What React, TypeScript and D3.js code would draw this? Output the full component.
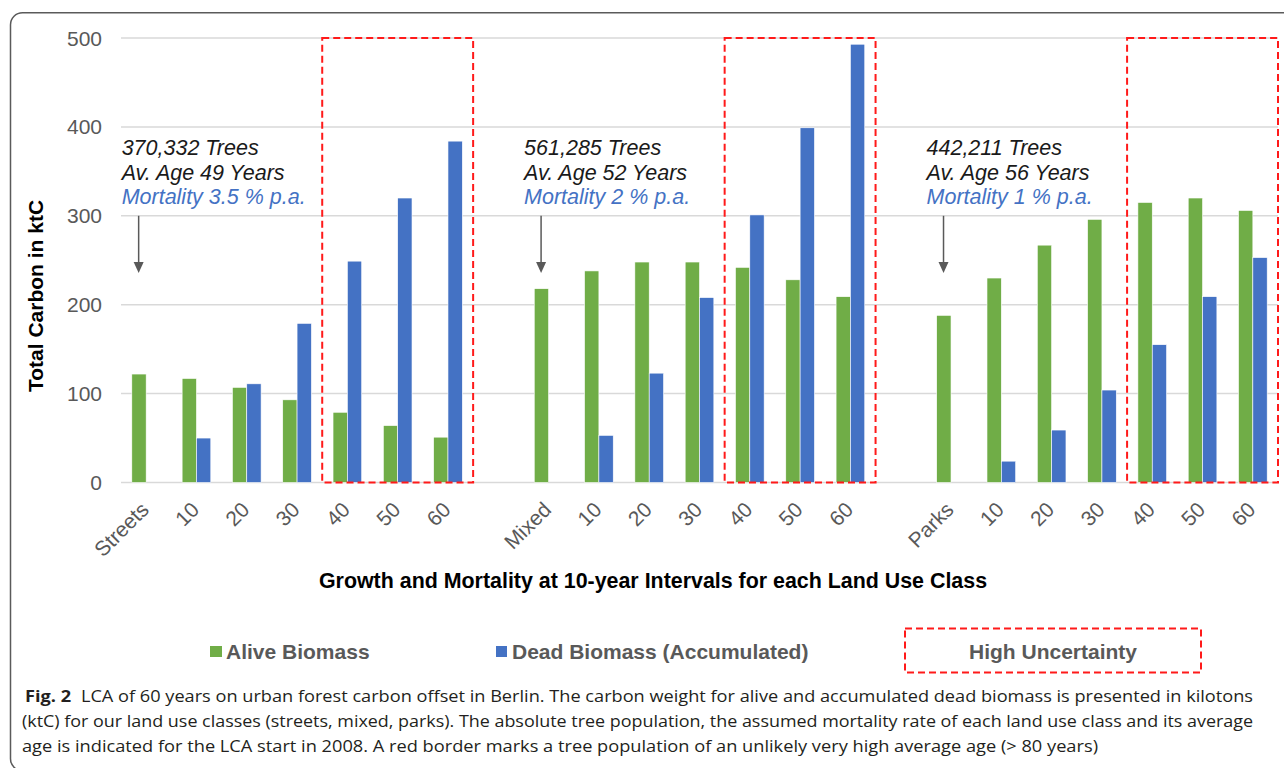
import React from "react";
import * as d3 from "d3";

const categories = ["Streets","10","20","30","40","50","60","","Mixed","10","20","30","40","50","60","","Parks","10","20","30","40","50","60"];
const alive = [122,117,107,93,79,64,51,null,218,238,248,248,242,228,209,null,188,230,267,296,315,320,306];
const dead = [null,50,111,179,249,320,384,null,null,53,123,208,301,399,493,null,null,24,59,104,155,209,253];
const yTicks = [0,100,200,300,400,500];
const uncertaintyRanges = [[4,6],[12,14],[20,22]];
const annotations = [
  { idx: 0, trees: "370,332 Trees", age: "Av. Age 49 Years", mort: "Mortality 3.5 % p.a." },
  { idx: 8, trees: "561,285 Trees", age: "Av. Age 52 Years", mort: "Mortality 2 % p.a." },
  { idx: 16, trees: "442,211 Trees", age: "Av. Age 56 Years", mort: "Mortality 1 % p.a." },
];
const seriesNames = ["Alive Biomass", "Dead Biomass (Accumulated)"];
const uncertaintyLabel = "High Uncertainty";
const yTitle = "Total Carbon in ktC";
const xTitle = "Growth and Mortality at 10-year Intervals for each Land Use Class";
const captionLines = [
  "LCA of 60 years on urban forest carbon offset in Berlin. The carbon weight for alive and accumulated dead biomass is presented in kilotons",
  "(ktC) for our land use classes (streets, mixed, parks). The absolute tree population, the assumed mortality rate of each land use class and its average",
  "age is indicated for the LCA start in 2008. A red border marks a tree population of an unlikely very high average age (> 80 years)",
];

const GREEN = "#70ad47";
const BLUE = "#4472c4";
const RED = "#ff1a1a";
const GRAY = "#595959";
const FONT = "'Liberation Sans', Arial, sans-serif";

export default function App() {
  const x = d3.scaleBand<number>().domain(d3.range(categories.length)).range([121, 1278]).padding(0);
  const y = d3.scaleLinear().domain([0, 500]).range([482.5, 38]);
  const bw = x.bandwidth();
  const barW = bw * 0.285;

  return (
    <svg width={1284} height={768} style={{ position: "absolute", left: 0, top: 0, background: "#fff" }} fontFamily={FONT}>
      <rect x={0} y={0} width={1284} height={768} fill="#fff" />
      <rect x={10.5} y={12.7} width={1300} height={758} rx={12} fill="none" stroke="#5a5a5a" strokeWidth={1.5} />
      {/* gridlines */}
      {yTicks.map((t) => (
        <line key={t} x1={121} x2={1278} y1={y(t)} y2={y(t)} stroke="#d9d9d9" strokeWidth={1.5} />
      ))}
      {yTicks.map((t) => (
        <text key={"l" + t} x={102} y={y(t)} dy="0.36em" textAnchor="end" fontSize={21} fill={GRAY}>{t}</text>
      ))}
      {/* bars */}
      {categories.map((c, i) => {
        const cx = (x(i) as number) + bw / 2;
        return (
          <g key={i}>
            {alive[i] != null && (
              <rect x={cx - barW} y={y(alive[i] as number)} width={barW} height={y(0) - y(alive[i] as number)} fill={GREEN} stroke="#fff" strokeWidth={0.6} />
            )}
            {dead[i] != null && (
              <rect x={cx} y={y(dead[i] as number)} width={barW} height={y(0) - y(dead[i] as number)} fill={BLUE} stroke="#fff" strokeWidth={0.6} />
            )}
          </g>
        );
      })}
      {/* uncertainty boxes */}
      {uncertaintyRanges.map(([a, b], k) => (
        <rect key={k} x={x(a) as number} y={y(500)} width={(x(b) as number) + bw - (x(a) as number)} height={y(0) - y(500)}
          fill="none" stroke={RED} strokeWidth={2} strokeDasharray="7,4" />
      ))}
      {/* x tick labels */}
      {categories.map((c, i) => c ? (
        <text key={"x" + i} transform={`translate(${(x(i) as number) + bw / 2 + 4},511) rotate(-45)`} textAnchor="end" fontSize={21} fill={GRAY}>{c}</text>
      ) : null)}
      {/* annotations */}
      {annotations.map((a, k) => {
        const ax = (x(a.idx) as number) + bw / 2 - 7.5;
        return (
          <g key={"a" + k}>
            <line x1={ax} x2={ax} y1={y(300)} y2={263} stroke={GRAY} strokeWidth={1.5} />
            <path d={`M${ax - 5},${262} L${ax + 5},${262} L${ax},${273} Z`} fill={GRAY} />
            <text x={ax - 17} y={154.5} fontSize={21.5} fontStyle="italic" fill="#1a1a1a">{a.trees}</text>
            <text x={ax - 17} y={179.5} fontSize={21.5} fontStyle="italic" fill="#1a1a1a">{a.age}</text>
            <text x={ax - 17} y={203.5} fontSize={21.5} fontStyle="italic" fill={BLUE}>{a.mort}</text>
          </g>
        );
      })}
      {/* axis titles */}
      <text transform="translate(43,296) rotate(-90)" textAnchor="middle" fontSize={21} fontWeight="bold" fill="#000">{yTitle}</text>
      <text x={653} y={588} textAnchor="middle" fontSize={21.4} fontWeight="bold" fill="#000">{xTitle}</text>
      {/* legend */}
      <rect x={210} y={646} width={12} height={11} fill={GREEN} />
      <text x={226} y={659} fontSize={21} fontWeight="bold" fill={GRAY}>{seriesNames[0]}</text>
      <rect x={496} y={646} width={11} height={11} fill={BLUE} />
      <text x={512} y={659} fontSize={21} fontWeight="bold" fill={GRAY}>{seriesNames[1]}</text>
      <rect x={905} y={628.5} width={296} height={44} fill="none" stroke={RED} strokeWidth={2} strokeDasharray="7,4" />
      <text x={1053} y={659} textAnchor="middle" fontSize={21} fontWeight="bold" fill={GRAY}>{uncertaintyLabel}</text>
      {/* caption */}
      <text x={25} y={701.7} fontSize={16.5} fill="#231f20" fontFamily="'Open Sans', 'Noto Sans', sans-serif" textLength={1228} lengthAdjust="spacingAndGlyphs">
        <tspan fontWeight="bold">Fig. 2</tspan><tspan dx={9}>{captionLines[0]}</tspan>
      </text>
      <text x={22} y={726.7} fontSize={16.5} fill="#231f20" fontFamily="'Open Sans', 'Noto Sans', sans-serif" textLength={1231} lengthAdjust="spacingAndGlyphs">{captionLines[1]}</text>
      <text x={22} y={751.7} fontSize={16.5} fill="#231f20" fontFamily="'Open Sans', 'Noto Sans', sans-serif" textLength={1076} lengthAdjust="spacingAndGlyphs">{captionLines[2]}</text>
    </svg>
  );
}
